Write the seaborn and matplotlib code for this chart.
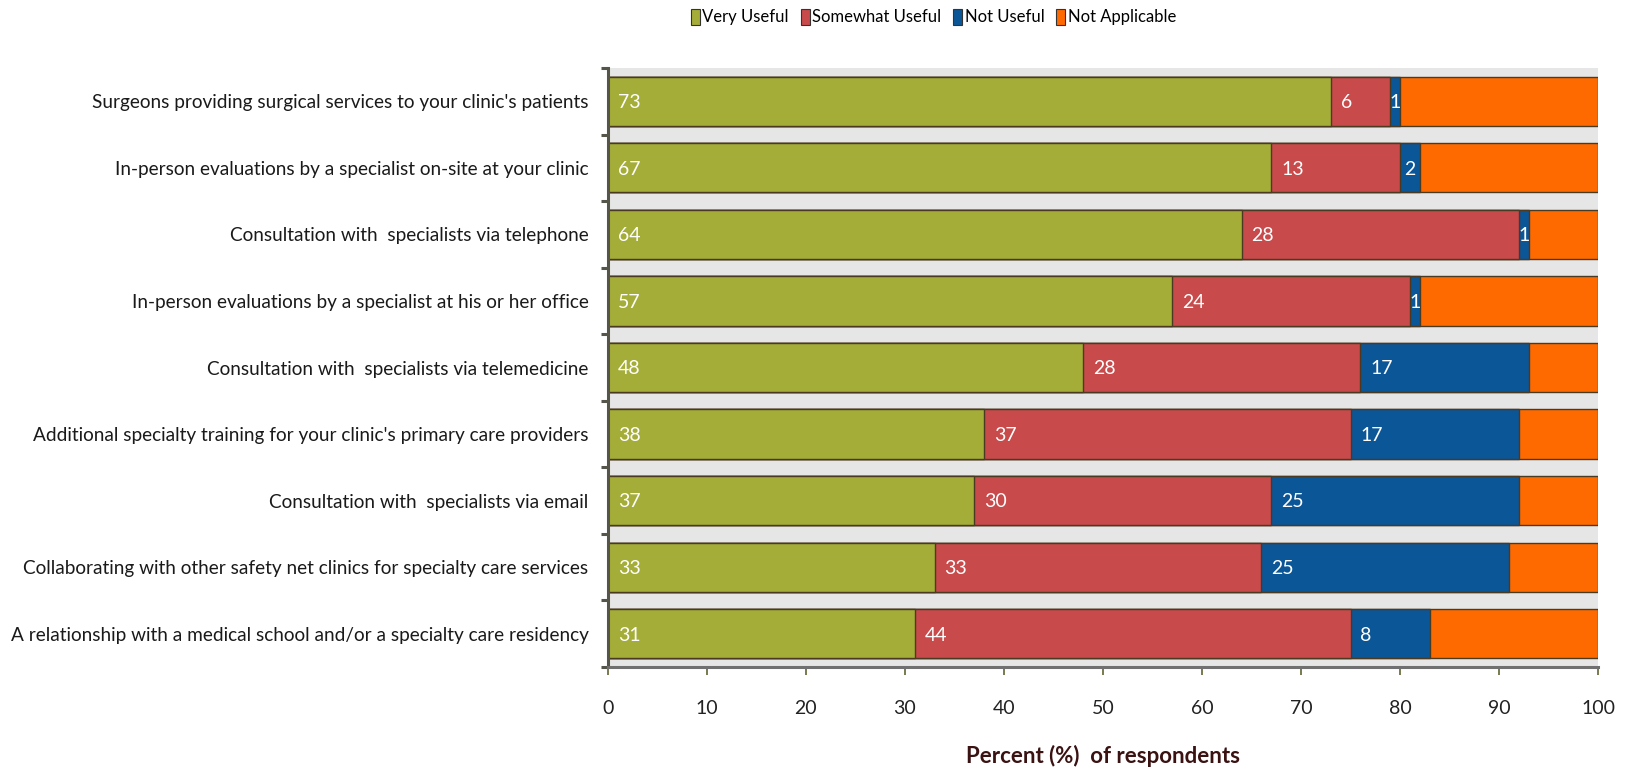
import matplotlib
matplotlib.use("Agg")
import matplotlib.pyplot as plt
import seaborn as sns
import numpy as np
import pandas as pd
from matplotlib.patches import Patch
from matplotlib.ticker import MultipleLocator

# Survey items, top to bottom
categories = [
    "Surgeons providing surgical services to your clinic's patients",
    "In-person evaluations by a specialist on-site at your clinic",
    "Consultation with  specialists via telephone",
    "In-person evaluations by a specialist at his or her office",
    "Consultation with  specialists via telemedicine",
    "Additional specialty training for your clinic's primary care providers",
    "Consultation with  specialists via email",
    "Collaborating with other safety net clinics for specialty care services",
    "A relationship with a medical school and/or a specialty care residency",
]

very_useful = [73, 67, 64, 57, 48, 38, 37, 33, 31]
somewhat_useful = [6, 13, 28, 24, 28, 37, 30, 33, 44]
not_useful = [1, 2, 1, 1, 17, 17, 25, 25, 8]
not_applicable = [20, 18, 7, 18, 7, 8, 8, 9, 17]

series_names = ["Very Useful", "Somewhat Useful", "Not Useful", "Not Applicable"]
series_colors = ["#a4ad37", "#c84a4a", "#0b5697", "#ff6a00"]
series_values = [very_useful, somewhat_useful, not_useful, not_applicable]

FONT = "Lato"
plt.rcParams["font.family"] = [FONT, "DejaVu Sans"]

fig = plt.figure(figsize=(16.32, 7.72), dpi=100)
ax = fig.add_axes([0.3725, 0.136, 0.9792 - 0.3725, 0.9119 - 0.136])
ax.set_facecolor("#e6e6e6")

vals = np.array(series_values, dtype=float)
cum = np.cumsum(vals, axis=0)
starts = cum - vals

# Draw cumulative totals from the outermost layer inward so each segment shows
for k in range(len(series_names) - 1, -1, -1):
    df = pd.DataFrame({"item": categories, "value": cum[k]})
    sns.barplot(data=df, x="value", y="item", orient="h", color=series_colors[k],
                saturation=1, width=0.74, edgecolor="#4a3a22", linewidth=1.0,
                ax=ax, zorder=2)

# Value labels at the start of each labelled segment
for k in range(3):
    for i, v in enumerate(series_values[k]):
        if v <= 2:
            ax.text(starts[k][i] + v / 2, i + 0.02, str(v), ha="center", va="center",
                    color="white", fontsize=14, zorder=5)
        else:
            ax.text(starts[k][i] + 1.0, i + 0.02, str(v), ha="left", va="center",
                    color="white", fontsize=14, zorder=5)

ax.set_xlim(0, 100)
ax.set_ylim(8.5, -0.5)
ax.xaxis.set_major_locator(MultipleLocator(10))
ax.set_xlabel("Percent (%)  of respondents", fontsize=16, fontweight="bold",
              color="#3a1212", labelpad=20)
ax.set_ylabel("")

for s in ["top", "right"]:
    ax.spines[s].set_visible(False)
ax.spines["left"].set_color("#55554a")
ax.spines["left"].set_linewidth(2.2)
ax.spines["bottom"].set_color("#707070")
ax.spines["bottom"].set_linewidth(2.2)

ax.tick_params(axis="x", length=6, width=1.4, color="#7a7a50", labelsize=14,
               labelcolor="#222222", pad=18)
ax.tick_params(axis="y", which="major", length=0, labelsize=13.7, labelcolor="#1a1a1a", pad=14)
ax.set_yticks(np.arange(-0.5, 9.0, 1.0), minor=True)
ax.tick_params(axis="y", which="minor", length=5, width=2.2, color="#55554a")

handles = [Patch(facecolor=c, edgecolor="#333333", linewidth=0.8) for c in series_colors]
fig.legend(handles, series_names, loc="upper center", bbox_to_anchor=(0.572, 1.008),
           ncol=4, frameon=False, fontsize=12, handlelength=0.55, handleheight=1.1,
           handletextpad=0.15, columnspacing=0.7)

fig.savefig("out.png", dpi=100)
